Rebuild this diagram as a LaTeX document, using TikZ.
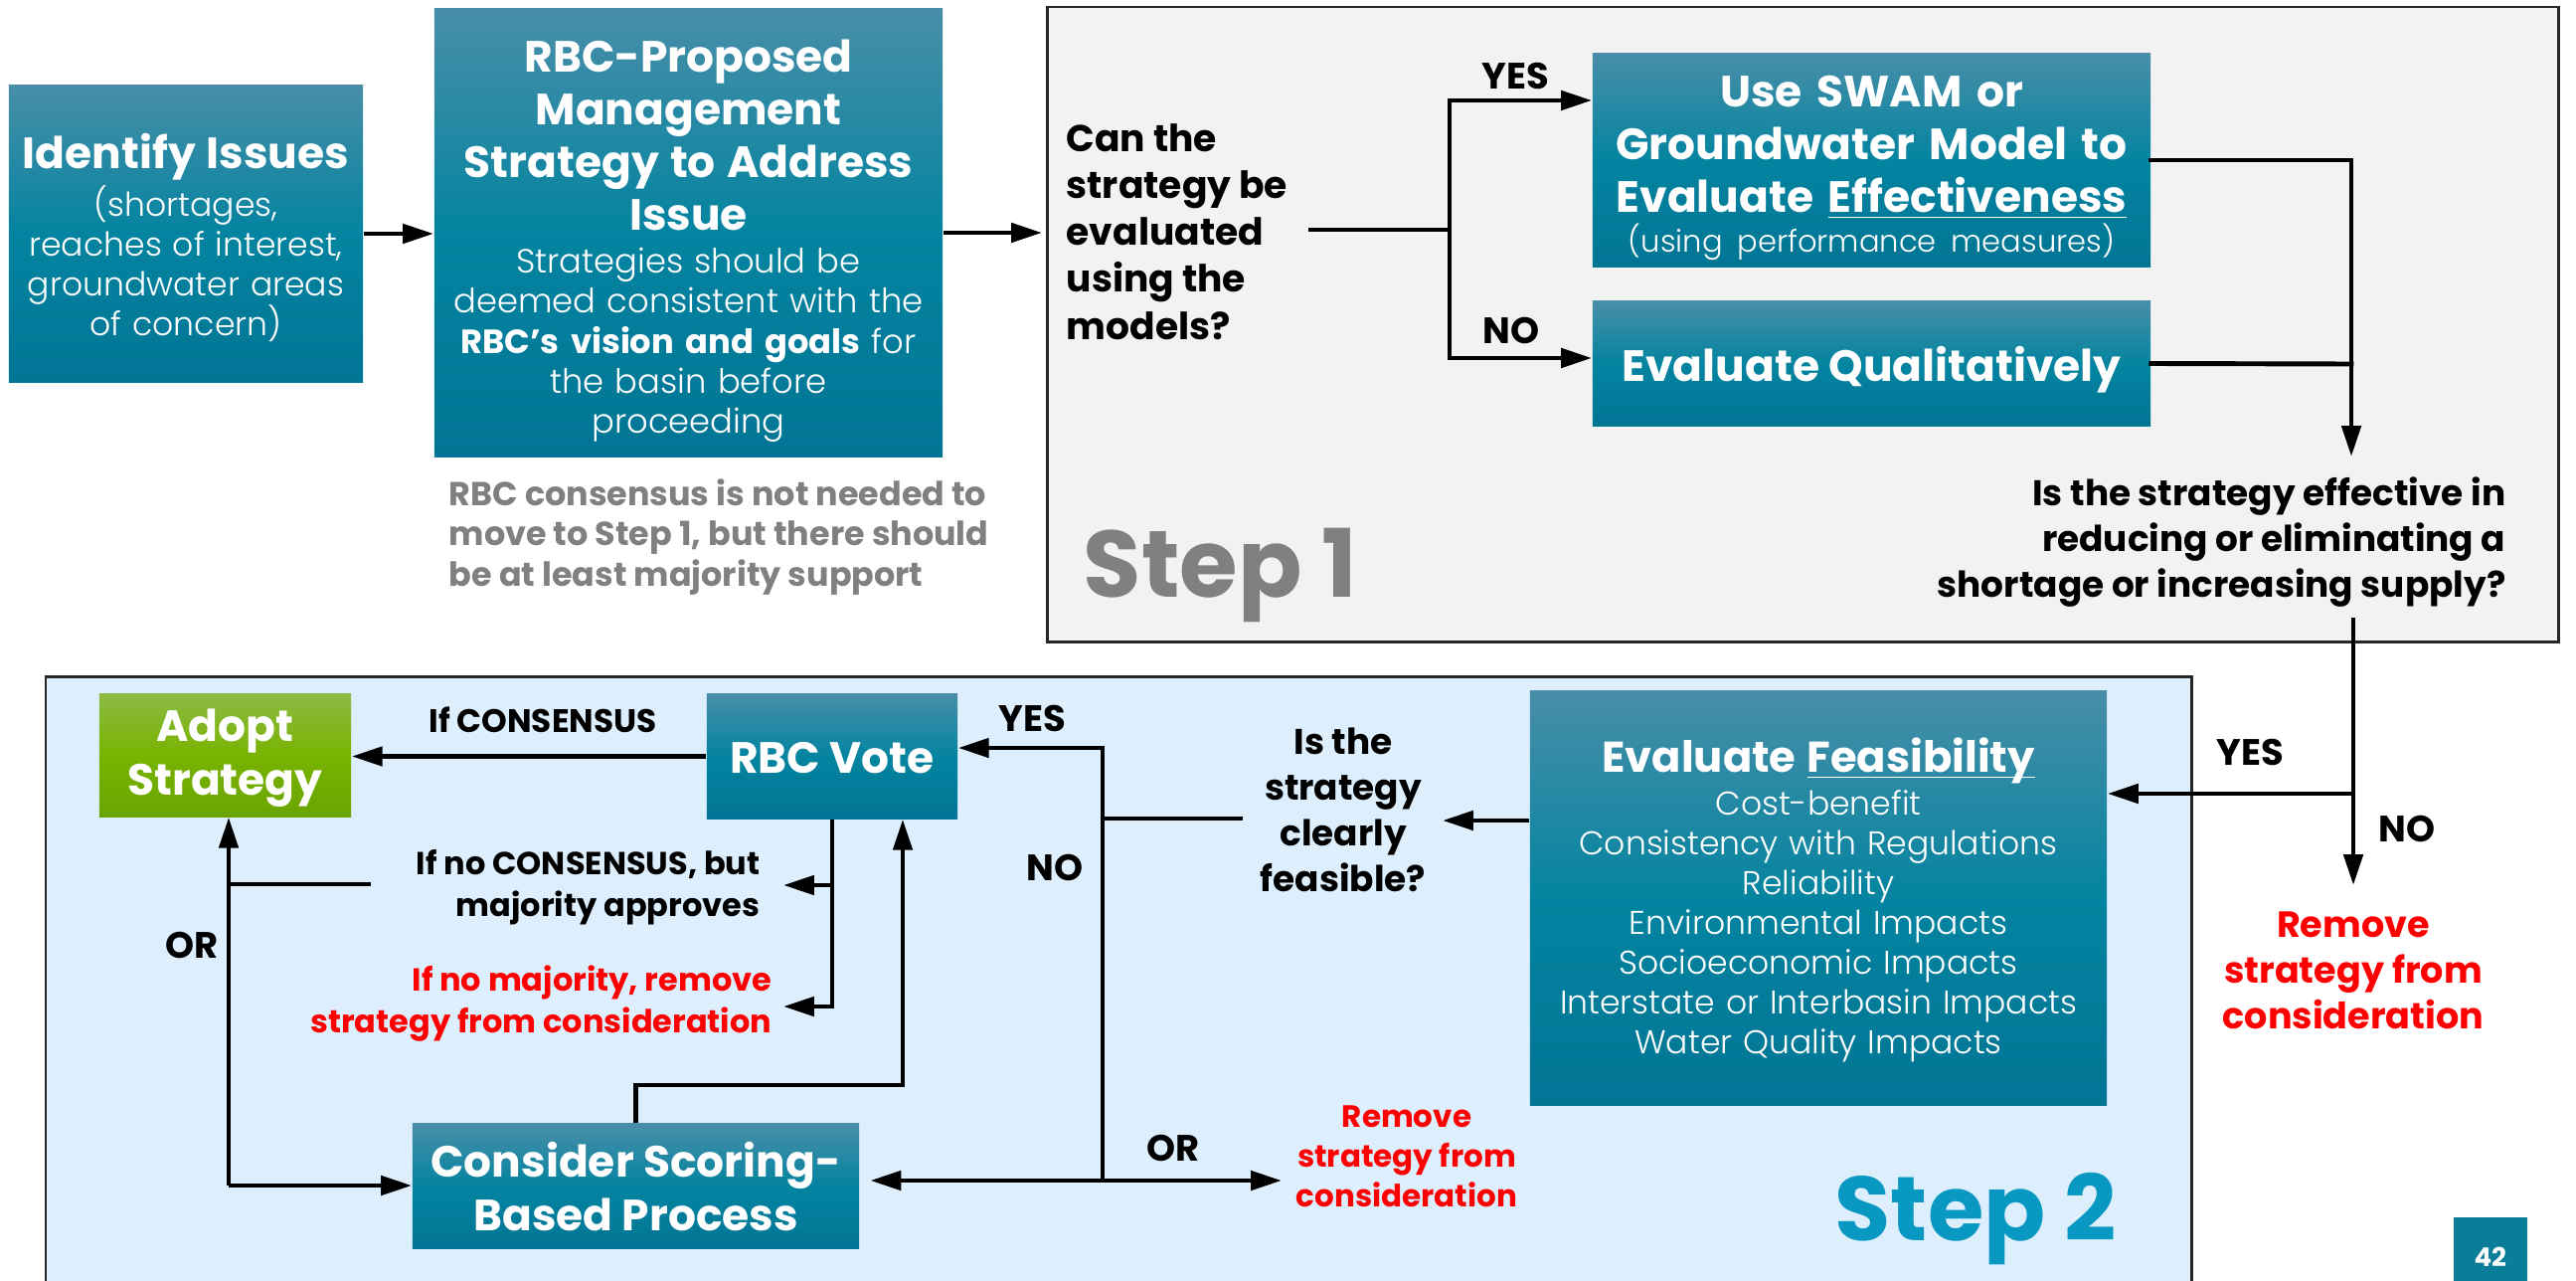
\documentclass[tikz,border=0pt]{standalone}
\usepackage{fontspec}
\setmainfont{Poppins}
\newfontfamily\lt{Poppins Light}
\usetikzlibrary{arrows.meta}
\setlength{\parindent}{0pt}
\definecolor{tealT}{RGB}{72,142,168}
\definecolor{tealM}{RGB}{4,132,160}
\definecolor{tealB}{RGB}{2,117,149}
\definecolor{grT}{RGB}{140,186,68}
\definecolor{grM}{RGB}{120,179,0}
\definecolor{grB}{RGB}{106,164,0}
\definecolor{s1bg}{RGB}{242,242,242}
\definecolor{s2bg}{RGB}{221,238,253}
\definecolor{s2txt}{RGB}{8,152,193}
\definecolor{grtxt}{RGB}{128,128,128}
\definecolor{redtxt}{RGB}{255,0,0}
\definecolor{pgbox}{RGB}{10,126,153}
\newcommand\fsz[2]{\fontsize{#1pt}{#2pt}\selectfont}
\newcommand\myul[1]{\underline{\raisebox{0pt}[\height][0pt]{#1}}}
\newcommand\bb[1]{{\rmfamily\bfseries #1}}
\begin{document}
\begin{tikzpicture}[x=0.01cm,y=-0.01cm,
 ln/.style={line width=1.4pt,line cap=rect},
 arr/.style={line width=1.4pt,-{Triangle[length=8.8pt,width=5.4pt]}},
 tbox/.style={rectangle,inner sep=0pt,top color=tealT,bottom color=tealB,middle color=tealM},
 gbox/.style={rectangle,inner sep=0pt,top color=grT,bottom color=grB,middle color=grM},
 ttxt/.style={inner sep=0pt,text=white,align=center},
 lbl/.style={inner sep=0pt,font=\fsz{10.5}{12}\bfseries},
 qtxt/.style={inner sep=0pt,font=\fsz{10.2}{13.1}\bfseries},
 redt/.style={inner sep=0pt,text=redtxt},
]
\fill[white] (0,0) rectangle (2591,1288);
\useasboundingbox (0,0) rectangle (2591,1288);

% panels
\path[fill=s1bg,draw=black!85,line width=0.85pt] (1053,7) rectangle (2573,645);
\fill[s2bg] (46,680) rectangle (2204,1295);
\draw[line width=0.85pt,black!85] (46,1295) -- (46,680) -- (2204,680) -- (2204,1295);

% boxes
\node[tbox,minimum width=3.56cm,minimum height=2.98cm] (ident) at (187,235) {};
\node[tbox,minimum width=5.11cm,minimum height=4.5cm] (prop) at (692.5,234) {};
\node[tbox,minimum width=5.61cm,minimum height=2.14cm] (swam) at (1882.5,161) {};
\node[tbox,minimum width=5.61cm,minimum height=1.25cm] (qual) at (1882.5,365.5) {};
\node[tbox,minimum width=5.8cm,minimum height=4.16cm] (feas) at (1829,903) {};
\node[tbox,minimum width=2.52cm,minimum height=1.25cm] (vote) at (837,760.5) {};
\node[gbox,minimum width=2.53cm,minimum height=1.23cm] (adopt) at (226.5,759.5) {};
\node[tbox,minimum width=4.49cm,minimum height=1.25cm] (consider) at (639.5,1192.5) {};

% box texts
\node[ttxt,text width=3.4cm,font=\fsz{9.4}{11.4}\lt] (identt) at (187,239)
 {{\fsz{12.5}{14}\rmfamily\bfseries Identify Issues}\\[0.6pt](shortages,\\reaches of interest,\\groundwater areas\\of concern)};
\node[ttxt,text width=4.9cm,font=\fsz{9.6}{11.4}\lt] (propt) at (692.5,242)
 {{\fsz{12.5}{15.1}\rmfamily\bfseries RBC-Proposed\\Management\\Strategy to Address\\Issue\par}\vskip0.9pt
 Strategies should be\\deemed consistent with the\\\bb{RBC’s vision and goals} for\\the basin before\\proceeding};
\node[ttxt,text width=5.4cm,font=\fsz{12.5}{15.1}\bfseries] (swamt) at (1882.5,169)
 {Use SWAM or\\Groundwater Model to\\Evaluate \myul{Effectiveness}\\[-3.7pt]{\fsz{8.7}{10}\lt\mdseries (using performance measures)}};
\node[ttxt,font=\fsz{12.5}{15}\bfseries] (qualt) at (1882.5,372) {Evaluate Qualitatively};
\node[ttxt,text width=5.6cm,font=\fsz{9.4}{11.4}\lt] (feast) at (1829,905)
 {{\fsz{12.3}{14}\rmfamily\bfseries Evaluate \myul{Feasibility}}\\[0.8pt]Cost-benefit\\Consistency with Regulations\\Reliability\\Environmental Impacts\\Socioeconomic Impacts\\Interstate or Interbasin Impacts\\Water Quality Impacts};
\node[ttxt,font=\fsz{12.5}{15}\bfseries] (votet) at (837,762.5) {RBC Vote};
\node[ttxt,font=\fsz{12.5}{15.4}\bfseries] (adoptt) at (226.5,762) {Adopt\\Strategy};
\node[ttxt,font=\fsz{12.5}{15.6}\bfseries] (considert) at (639.5,1193) {Consider Scoring-\\Based Process};

% other texts
\node[anchor=west,align=left,inner sep=0pt,text=grtxt,font=\fsz{9.5}{11.5}\bfseries] (note) at (451,540)
 {RBC consensus is not needed to\\move to Step 1, but there should\\be at least majority support};
\node[qtxt,font=\fsz{10.7}{13.4}\bfseries,anchor=west,align=left] (q1) at (1072,233)
 {Can the\\strategy be\\evaluated\\using the\\models?};
\node[lbl] (yes1) at (1524,76) {YES};
\node[lbl] (no1) at (1520,332) {NO};
\node[qtxt,anchor=east,align=right] (q2) at (2521,545)
 {Is the strategy effective in\\reducing or eliminating a\\shortage or increasing supply?};
\node[anchor=base west,inner sep=0pt,text=grtxt,font=\fsz{27}{30}\bfseries] (st1) at (1089,600) {Step 1};
\node[lbl] (yes2) at (2263,756) {YES};
\node[lbl] (no2) at (2421,833) {NO};
\node[redt,align=center,font=\fsz{10.4}{13.1}\bfseries] (rem1) at (2367,976) {Remove\\strategy from\\consideration};
\node[qtxt,align=center] (q3) at (1351,814) {Is the\\strategy\\clearly\\feasible?};
\node[inner sep=0pt,font=\fsz{9.3}{11}\bfseries] (ifc) at (546,724) {If CONSENSUS};
\node[lbl] (yes3) at (1038,722) {YES};
\node[lbl] (no3) at (1061,872) {NO};
\node[inner sep=0pt,anchor=east,align=right,font=\fsz{9.1}{12}\bfseries] (maj) at (765,892) {If no CONSENSUS, but\\majority approves};
\node[redt,anchor=east,align=right,font=\fsz{9.1}{12}\bfseries] (nomaj) at (777,1009) {If no majority, remove\\strategy from consideration};
\node[lbl] (or1) at (193,950) {OR};
\node[lbl] (or2) at (1180,1154) {OR};
\node[redt,align=center,font=\fsz{8.8}{11.4}\bfseries] (rem2) at (1415,1163) {Remove\\strategy from\\consideration};
\node[anchor=base west,inner sep=0pt,text=s2txt,font=\fsz{26}{30}\bfseries] (st2) at (1845,1247) {Step 2};
\node[fill=pgbox,inner sep=0pt,minimum width=0.74cm,minimum height=0.8cm,anchor=north west,text=white,font=\fsz{7.4}{9}\bfseries] (pg) at (2467,1223) {42};

% coordinates
\coordinate (s1in) at (1048,234);
\coordinate (q1o) at (1318,231);
\coordinate (br) at (1458,231);
\coordinate (m1) at (2365,161);
\coordinate (m2) at (2365,366);
\coordinate (m3) at (2365,459);
\coordinate (v1) at (2367,623);
\coordinate (v2) at (2367,798);
\coordinate (v3) at (2367,890);
\coordinate (f3) at (1451,825);
\coordinate (q3l) at (1248,823);
\coordinate (j1) at (1109,823);
\coordinate (j0) at (1109,752);
\coordinate (j2) at (1109,1187);
\coordinate (r2t) at (1289,1187);
\coordinate (t1) at (788,890);
\coordinate (t2) at (788,1012);
\coordinate (l1) at (371,889);
\coordinate (l2) at (230,889);
\coordinate (l3) at (230,1192);
\coordinate (c1) at (908,1091);

% connectors
\draw[arr] (ident.east) -- (ident.east -| prop.west);
\draw[arr] (prop.east) -- (s1in);
\draw[ln] (q1o) -- (br);
\draw[arr] (br) |- ([yshift=0.6cm]swam.west);
\draw[arr] (br) |- ([yshift=0.055cm]qual.west);
\draw[ln] (swam.east) -- (m1);
\draw[ln] (qual.east) -- (m2);
\draw[arr] (m1) -- (m3);
\draw[ln] (v1) -- (v2);
\draw[arr] (v2) -- (v3);
\draw[arr] (v2) -- (v2 -| feas.east);
\draw[arr] (feas.west |- f3) -- (f3);
\draw[ln] (q3l) -- (j1);
\draw[arr] (j1) -- (j0) -- (j0 -| vote.east);
\draw[ln] (j1) -- (j2);
\draw[arr,shorten >=3pt] (j2) -- (j2 -| consider.east);
\draw[arr] (j2) -- (r2t);
\draw[arr] (vote.west) -- (vote.west -| adopt.east);
\draw[arr] (vote.south) |- (t2);
\draw[arr] (vote.south |- t1) -- (t1);
\draw[ln] (l1) -- (l2);
\draw[arr] (l3) -- (l3 |- adopt.south);
\draw[arr] (l3) -- (l3 -| consider.west);
\draw[arr] (consider.north) |- (c1) -- (c1 |- vote.south);
\end{tikzpicture}
\end{document}
